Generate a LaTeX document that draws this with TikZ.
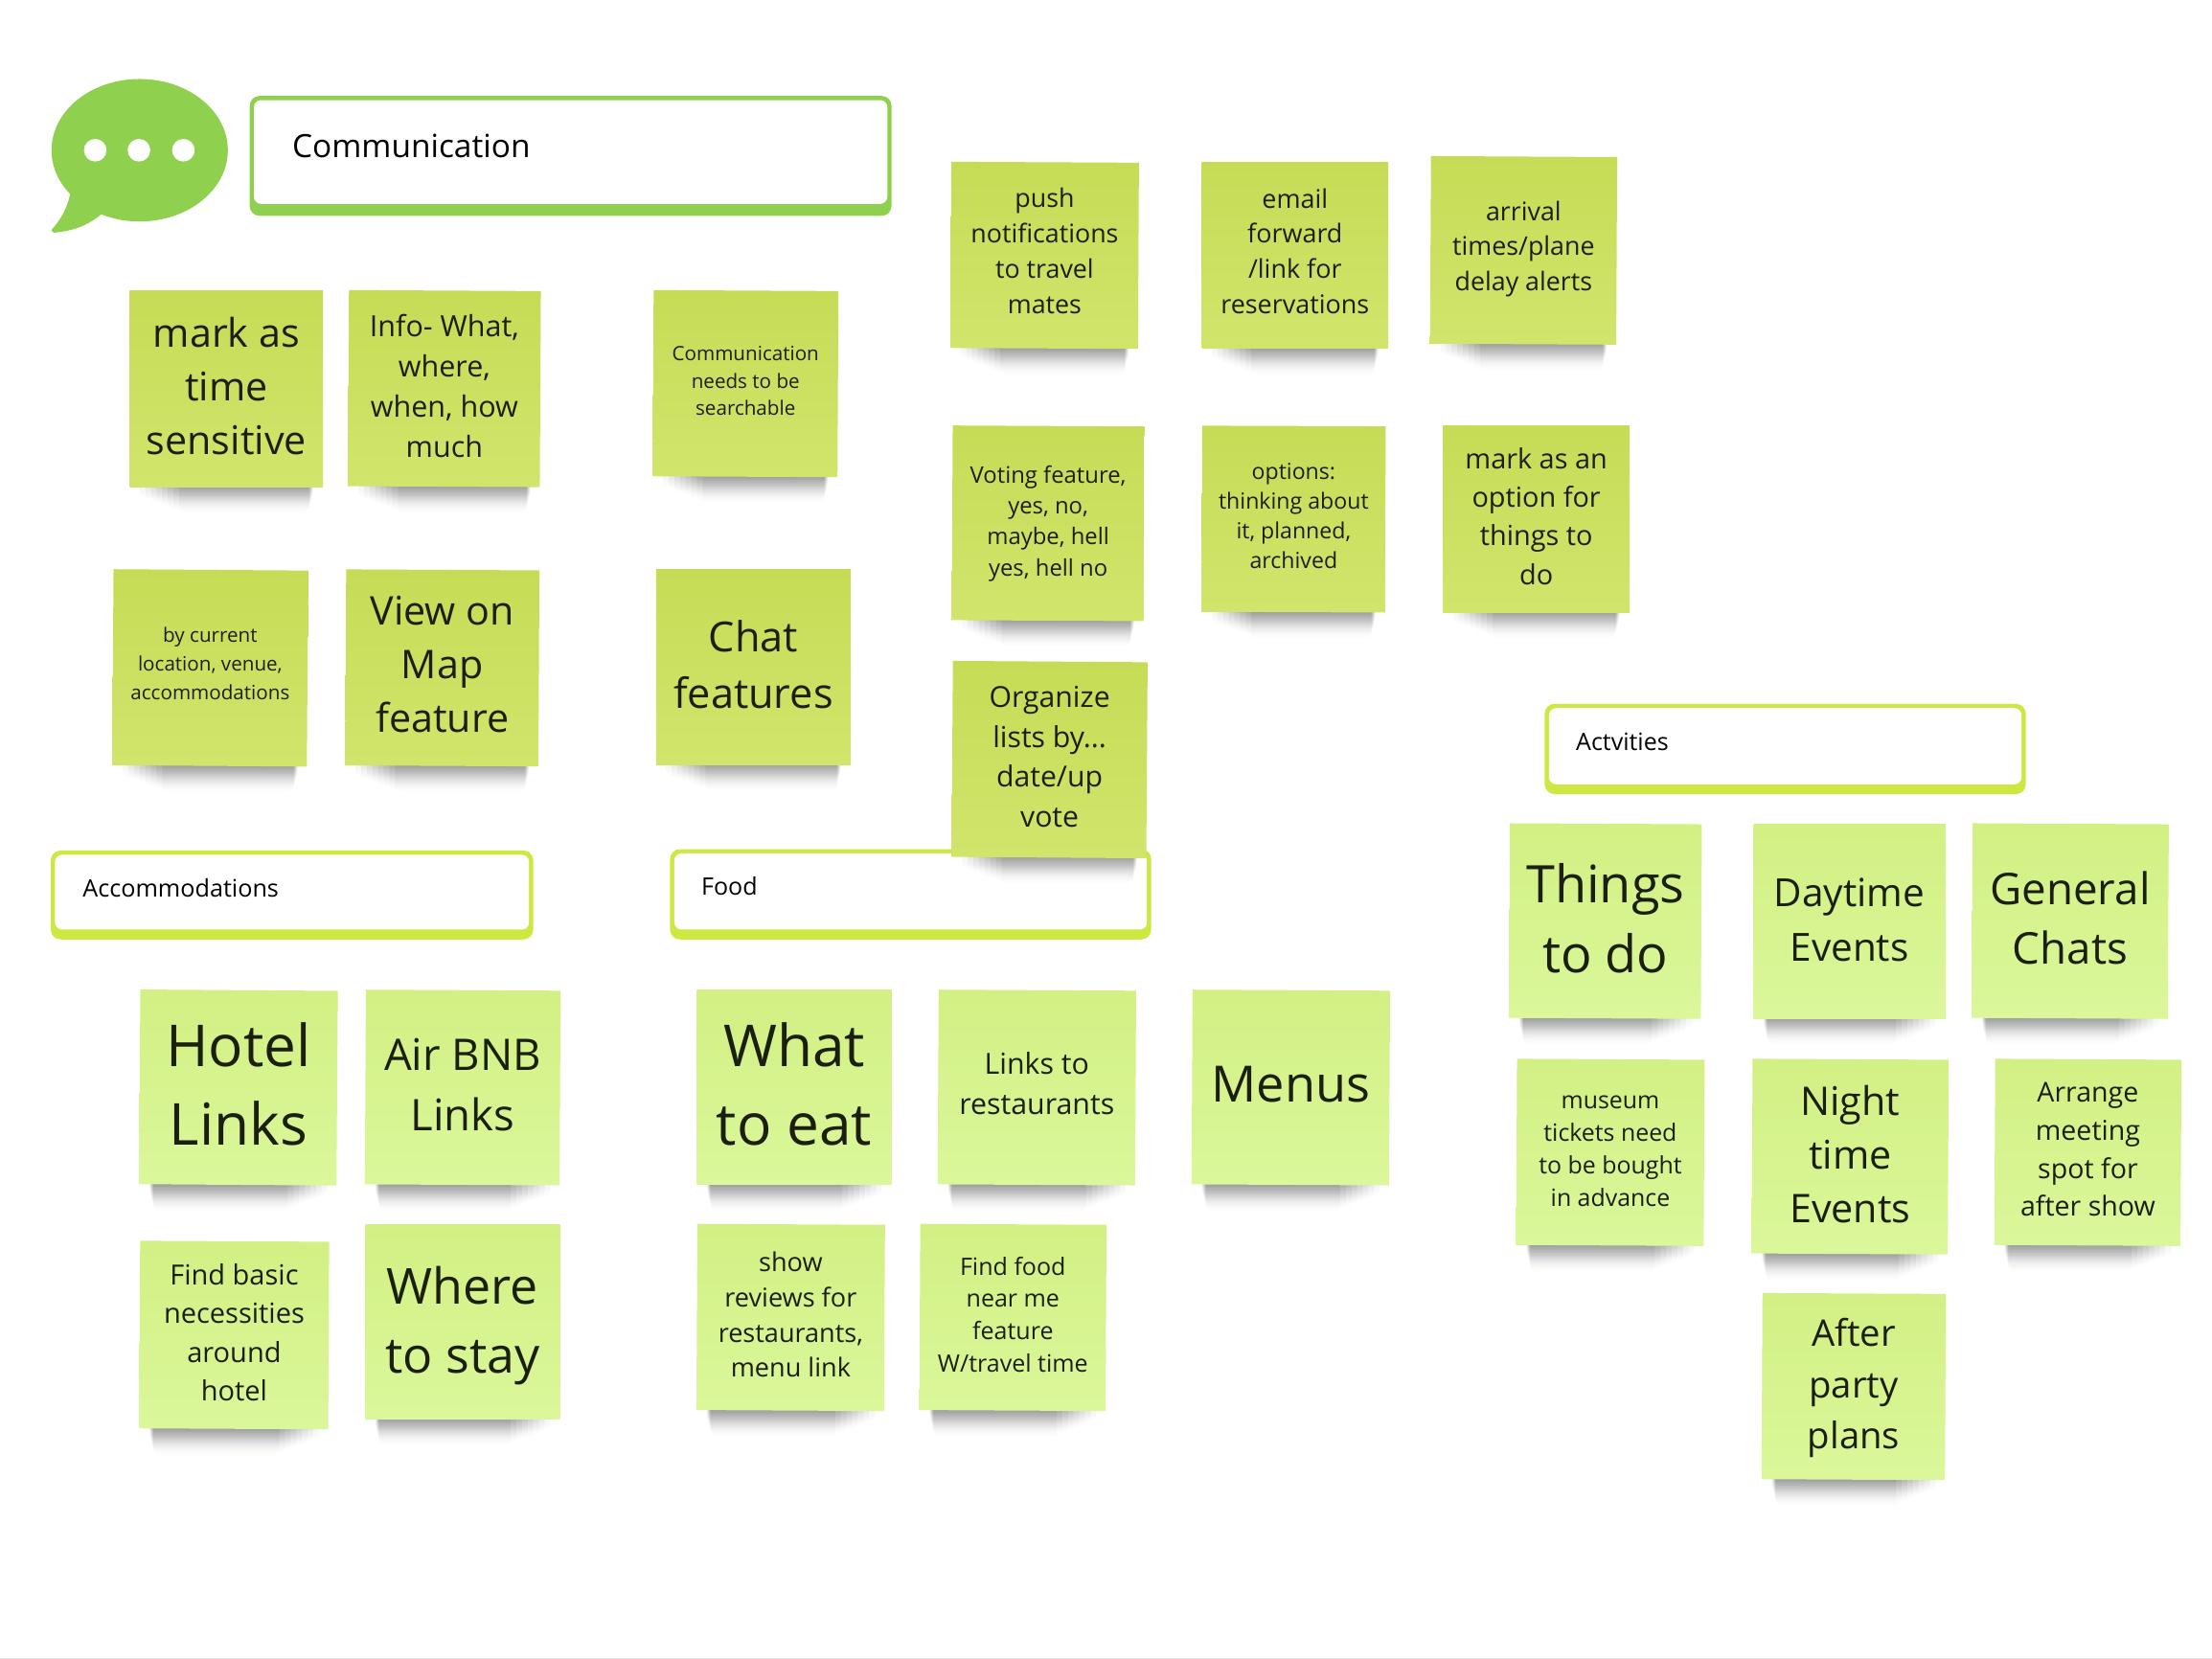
\documentclass[tikz,border=0pt]{standalone}
\usepackage{fontspec}
\setmainfont{Open Sans}
\usetikzlibrary{fadings}
\definecolor{limeatop}{HTML}{C6DC56}
\definecolor{limeabot}{HTML}{D1E56C}
\definecolor{limebtop}{HTML}{D2F083}
\definecolor{limebbot}{HTML}{DBF79B}
\definecolor{chatgreen}{HTML}{8FD14F}
\definecolor{headlime}{HTML}{CEE741}
\definecolor{stickyink}{HTML}{1A1F10}
% how fast a shadow narrows on each side
\def\blurlefta{4}\def\blurrighta{.4}
\def\blurleftb{.4}\def\blurrightb{4}
\tikzset{
  sticky/.style={inner sep=0pt, align=center, text=stickyink},
  headlabel/.style={anchor=west, inner sep=0pt, text=black},
}
\begin{document}
\begin{tikzpicture}[x=1pt, y=-1pt]
      \useasboundingbox (0,0) rectangle (1568,1176);
      \fill[white] (0,0) rectangle (1568,1176);
      \draw[black!10, line width=.7pt] (0,1175.6) -- (1568,1175.6);
      % speech bubble
      \fill[chatgreen] (99,106.5) ellipse [x radius=62.5, y radius=50.5];
      \fill[chatgreen] (50,136) .. controls (48,148) and (42,157) .. (36.5,163)
        .. controls (37,165.5) and (39,165) .. (42,164.5)
        .. controls (54,163) and (64,159) .. (74,150) -- cycle;
      \foreach \dotx in {67.5,98.5,130}{
        \fill[white] (\dotx,106.5) circle (8);
      }
      % heading boxes
      \foreach \xa/\ya/\xb/\yb/\tint/\thick/\lblx/\lbly/\size/\tag/\body in {
        177/68/632/153/chatgreen/8.5/207/103.5/22.7/commbox/Communication,
        1095/499/1436/563/headlime/7/1117/526/17/actbox/Actvities,
        36/603/378/666/headlime/7/58.5/629.5/17.1/accbox/Accommodations,
        475/602/816/666/headlime/7/497/628.5/17/foodbox/Food}{
        \fill[\tint, rounded corners=7] (\xa,\ya) rectangle (\xb,\yb);
        \fill[white, rounded corners=5] (\xa+3,\ya+3) rectangle (\xb-3,\yb-\thick);
        \node[headlabel, font=\fontsize{\size}{\size}\selectfont] (\tag) at (\lblx,\lbly) {\body};
      }
      % sticky notes
      \foreach \xa/\ya/\xb/\yb/\tint/\size/\lead/\nudge/\tilt/\tag/\body in {
        92/206/229/345/a/28/38/-2/0/marktime/{mark as\\time\\sensitive},
        247/206/383/345/a/20.7/28.5/-2/-.3/infowhat/{Info- What,\\where,\\when, how\\much},
        463/206/594/338/a/14/19.5/-2/-.3/searchable/{Communication\\needs to be\\searchable},
        674/115/807/247/a/18.2/25/-3/-.3/pushnote/{push\\notifications\\to travel\\mates},
        852/115/984/247/a/18.3/25/-3/0/emailnote/{email\\forward\\/link for\\reservations},
        1014/111/1146/244/a/18.2/25/-1/-.3/arrival/{arrival\\times/plane\\delay alerts},
        675/302/811/440/a/16.2/22/0/-.3/voting/{Voting feature,\\yes, no,\\maybe, hell\\yes, hell no},
        852/302/982/434/a/15.7/21/-2/-.2/options/{options:\\thinking about\\it, planned,\\archived},
        1023/302/1155/434/a/19.6/27.3/-2/0/markoption/{mark as an\\option for\\things to\\do},
        80/404/218/543/a/14/20.5/-3/-.4/bylocation/{by current\\location, venue,\\accommodations},
        245/404/382/543/a/28/38/-2.5/-.3/viewmap/{View on\\Map\\feature},
        465/404/603/542/a/29.4/40/-2/0/chatfeat/{Chat\\features},
        675/469/813/608/a/20.5/28.5/-2/-.4/organize/{Organize\\lists by...\\date/up\\vote},
        99/702/239/840/b/41/56/-2.5/-.4/hotel/{Hotel\\Links},
        259/702/397/840/b/30.9/42.5/-2/-.3/airbnb/{Air BNB\\Links},
        494/702/632/840/b/41/56/-2.5/0/whateat/{What\\to eat},
        665/702/805/840/b/20.6/28.5/-3/-.3/linksrest/{Links to\\restaurants},
        845/702/985/840/b/35.5/46/-2/-.3/menus/{Menus},
        99/880/233/1013/b/19.7/27.5/-2/-.3/necessities/{Find basic\\necessities\\around\\hotel},
        259/868/397/1006/b/35.2/49/3/0/wherestay/{Where\\to stay},
        494/868/627/1000/b/18.4/25/-2/-.3/reviews/{show\\reviews for\\restaurants,\\menu link},
        652/868/784/1000/b/17/23/-2/-.3/nearme/{Find food\\near me\\feature\\W/travel time},
        1070/584/1206/722/b/36.7/50/-2/-.3/thingsdo/{Things\\to do},
        1243/584/1379/722/b/27.5/39/-1/0/daytime/{Daytime\\Events},
        1398/584/1537/722/b/31/42/-2/-.3/general/{General\\Chats},
        1075/751/1208/883/b/16.9/23/-1/-.3/museum/{museum\\tickets need\\to be bought\\in advance},
        1242/751/1381/889/b/28/38/-2/-.3/nighttime/{Night\\time\\Events},
        1414/751/1546/883/b/19.4/27/-2/-.3/arrange/{Arrange\\meeting\\spot for\\after show},
        1249/917/1379/1049/b/26/36.5/1/-.3/afterparty/{After\\party\\plans}}{
        % shadow first, the note sits on top of it
        \foreach \k in {0,...,7}{
          \fill[black, opacity=.09, path fading=south, rounded corners=5]
            ({\xa+7+\k*\csname blurleft\tint\endcsname},\yb-9) rectangle
            ({\xb-7-\k*\csname blurright\tint\endcsname},{\yb+8+\k*1.6});
        }
        \node[top color=lime\tint top, bottom color=lime\tint bot, inner sep=0pt,
          minimum width={(\xb-\xa)*1pt}, minimum height={(\yb-\ya)*1pt}, rotate=\tilt]
          (\tag) at ({(\xa+\xb)/2},{(\ya+\yb)/2}) {};
        \node[sticky, font=\fontsize{\size}{\lead}\selectfont] (\tag text)
          at ({(\xa+\xb)/2},{(\ya+\yb)/2+\nudge}) {\body};
      }
\end{tikzpicture}
\end{document}
